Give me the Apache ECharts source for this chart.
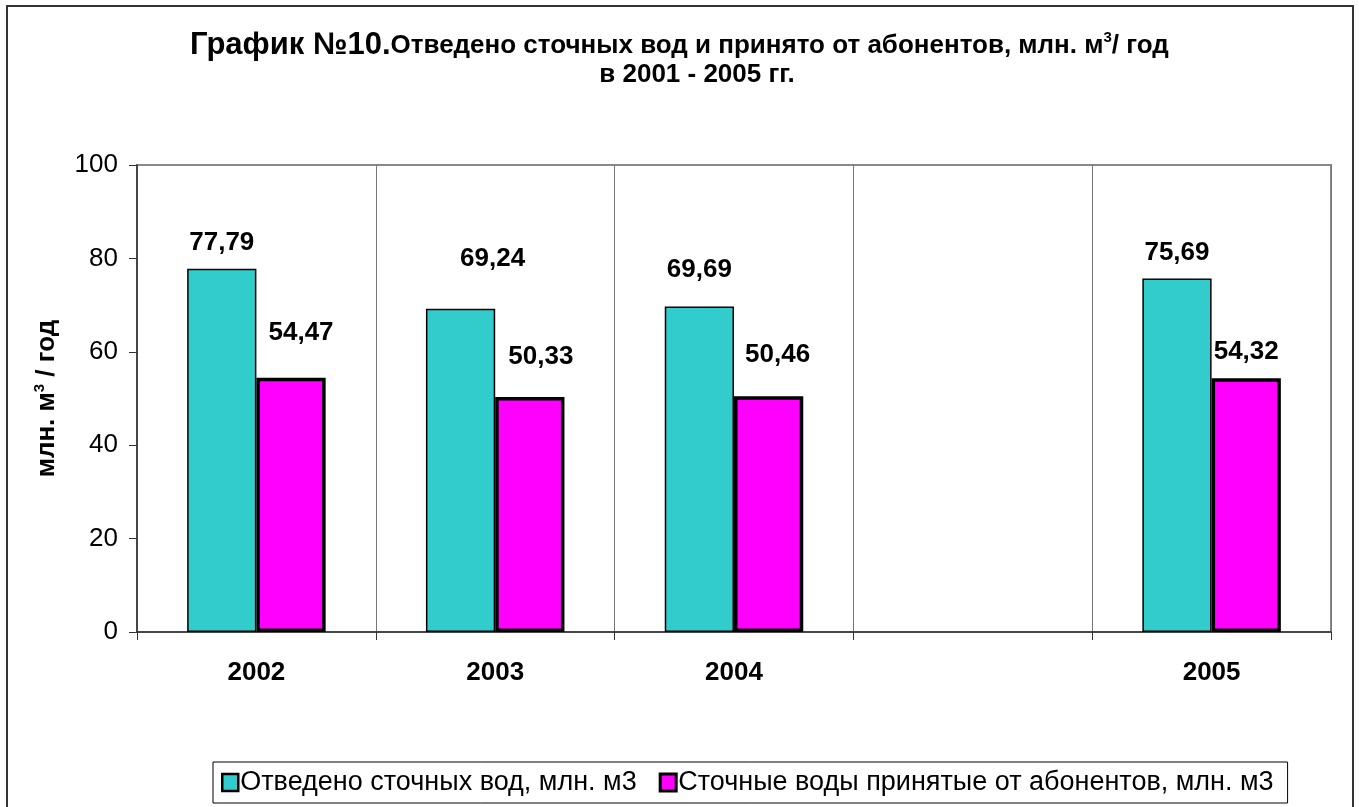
<!DOCTYPE html>
<html>
<head>
<meta charset="utf-8">
<script src="https://cdn.jsdelivr.net/npm/echarts@6/dist/echarts.min.js"></script>
<style>
  html, body { margin: 0; padding: 0; background: #fff; }
  #chart { width: 1359px; height: 807px; }
</style>
</head>
<body>
<div id="chart"></div>
<script>
// данные графика
var years = ['2002', '2003', '2004', '', '2005'];
var otvedeno = [77.79, 69.24, 69.69, null, 75.69];
var prinyato = [54.47, 50.33, 50.46, null, 54.32];
var yTicks = [0, 20, 40, 60, 80, 100];
var seriesNames = ['Отведено сточных вод, млн. м3', 'Сточные воды принятые от абонентов, млн. м3'];

// подписи в Excel были сдвинуты вручную: отступ над столбцом и сдвиг вбок
var liftCyan = [13, 37, 24, null, 13];
var shiftCyan = [0, 32, 0, null, 0];
var liftPink = [32, 27, 29, null, 13];
var shiftPink = [10, 11, 9, null, 0];

var FONT = 'Arial, "Liberation Sans", sans-serif';

function fmt(v) {
    return v.toFixed(2).replace('.', ',');
}

function buildData(values, lift, shift) {
    return values.map(function (v, i) {
        if (v == null) return null;
        return {
            value: v,
            label: { distance: lift[i], offset: [shift[i], 0] }
        };
    });
}

var myChart = echarts.init(document.getElementById('chart'));
var option = {
    backgroundColor: '#fff',
    animation: false,
    title: [
        {
            left: 185,
            top: 25,
            text: '{a|График №10.}{b|Отведено сточных вод и принято от абонентов, млн. м}{s|3}{b|/ год}',
            textStyle: {
                rich: {
                    a: { fontFamily: FONT, fontWeight: 'bold', fontSize: 31, color: '#000' },
                    b: { fontFamily: FONT, fontWeight: 'bold', fontSize: 26, color: '#000' },
                    s: { fontFamily: FONT, fontWeight: 'bold', fontSize: 15, color: '#000', padding: [0, 0, 16, 0] }
                }
            }
        },
        {
            left: 692,
            top: 57,
            textAlign: 'center',
            text: 'в 2001 - 2005 гг.',
            textStyle: { fontFamily: FONT, fontWeight: 'bold', fontSize: 26, color: '#000' }
        }
    ],
    graphic: [
        {
            type: 'rect',
            shape: { x: 7, y: 6, width: 1346, height: 820 },
            style: { fill: null, stroke: '#333', lineWidth: 2 },
            silent: true
        }
    ],
    legend: {
        left: 213,
        top: 762,
        padding: [7, 14, 7, 8],
        borderColor: '#000',
        borderWidth: 1,
        itemWidth: 16,
        itemHeight: 17,
        itemGap: 22,
        icon: 'rect',
        textStyle: { fontFamily: FONT, fontSize: 27, color: '#000', padding: [0, 0, 0, -3] },
        data: [
            { name: seriesNames[0], itemStyle: { borderColor: '#000', borderWidth: 2.5 } },
            { name: seriesNames[1], itemStyle: { borderColor: '#000', borderWidth: 3 } }
        ]
    },
    grid: {
        left: 137,
        right: 28,
        top: 165,
        bottom: 175,
        show: true,
        borderColor: '#888',
        borderWidth: 2
    },
    xAxis: {
        type: 'category',
        data: years,
        axisLine: { lineStyle: { color: '#333', width: 1.5 } },
        axisTick: { show: true, length: 8, lineStyle: { color: '#333' } },
        splitLine: { show: true, lineStyle: { color: '#777', width: 1 } },
        axisLabel: { fontFamily: FONT, fontWeight: 'bold', fontSize: 26, color: '#000', margin: 28 }
    },
    yAxis: {
        type: 'value',
        min: yTicks[0],
        max: yTicks[yTicks.length - 1],
        interval: yTicks[1] - yTicks[0],
        name: '{b|млн. м}{s|3}{b| / год}',
        nameLocation: 'middle',
        nameGap: 75,
        nameRotate: 90,
        nameTextStyle: {
            rich: {
                b: { fontFamily: FONT, fontWeight: 'bold', fontSize: 26, color: '#000' },
                s: { fontFamily: FONT, fontWeight: 'bold', fontSize: 15, color: '#000', padding: [0, 0, 15, 0] }
            }
        },
        axisLine: { show: true, lineStyle: { color: '#333', width: 1.5 } },
        axisTick: { show: true, length: 8, lineStyle: { color: '#333' } },
        splitLine: { show: false },
        axisLabel: { fontFamily: FONT, fontSize: 26, color: '#000', margin: 19 }
    },
    series: [
        {
            name: seriesNames[0],
            type: 'bar',
            barGap: '0%',
            barCategoryGap: '42%',
            data: buildData(otvedeno, liftCyan, shiftCyan),
            itemStyle: { color: '#33CCCC', borderColor: '#000', borderWidth: 1.5 },
            label: {
                show: true,
                position: 'top',
                formatter: function (p) { return fmt(p.value); },
                fontFamily: FONT, fontWeight: 'bold', fontSize: 26, color: '#000'
            }
        },
        {
            name: seriesNames[1],
            type: 'bar',
            data: buildData(prinyato, liftPink, shiftPink),
            itemStyle: { color: '#FF00FF', borderColor: '#000', borderWidth: 3.5 },
            label: {
                show: true,
                position: 'top',
                formatter: function (p) { return fmt(p.value); },
                fontFamily: FONT, fontWeight: 'bold', fontSize: 26, color: '#000'
            }
        }
    ]
};
myChart.setOption(option);
</script>
</body>
</html>
